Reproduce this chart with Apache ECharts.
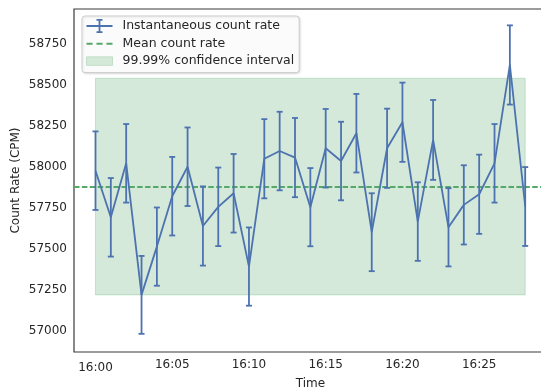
<!DOCTYPE html>
<html>
<head>
<meta charset="utf-8">
<script src="https://cdn.jsdelivr.net/npm/echarts@6/dist/echarts.min.js"></script>
<style>
  html, body { margin: 0; padding: 0; background: #ffffff; }
  #chart { width: 541px; height: 392px; }
</style>
</head>
<body>
<div id="chart"></div>
<script>
// One reading per minute, 16:00 to 16:28
const timeLabels = [
  '16:00', '16:01', '16:02', '16:03', '16:04', '16:05', '16:06', '16:07', '16:08', '16:09',
  '16:10', '16:11', '16:12', '16:13', '16:14', '16:15', '16:16', '16:17', '16:18', '16:19',
  '16:20', '16:21', '16:22', '16:23', '16:24', '16:25', '16:26', '16:27', '16:28'
];
// Instantaneous count rate (CPM)
const countRates = [
  57976, 57691, 58021, 57217, 57512, 57820, 58000, 57638, 57755, 57838,
  57390, 58049, 58096, 58056, 57753, 58113, 58035, 58205, 57600, 58113,
  58272, 57665, 58164, 57630, 57767, 57832, 58021, 58622, 57757
];
// One-sigma counting uncertainty of each reading (CPM)
const rateErrors = [
  240, 240, 240, 238, 239, 240, 240, 242, 240, 240,
  239, 242, 240, 242, 239, 240, 240, 240, 238, 242,
  242, 240, 244, 239, 242, 242, 240, 242, 241
];
const meanRate = 57878;
const ciLow = 57217;
const ciHigh = 58541;

const xTickLabels = ['16:00', '16:05', '16:10', '16:15', '16:20', '16:25'];
const yTickValues = [57000, 57250, 57500, 57750, 58000, 58250, 58500, 58750];

const BLUE = '#4c72b0';
const GREEN = '#55a868';
const TEXT = '#262626';
const FONT = 'DejaVu Sans';
const LW = 1.8;

function toMinutes(label) {
  const parts = label.split(':').map(Number);
  return (parts[0] - 16) * 60 + parts[1];
}
function toClock(minutes) {
  const h = 16 + Math.floor(minutes / 60);
  const m = Math.round(minutes % 60);
  return h + ':' + (m < 10 ? '0' + m : '' + m);
}

const xs = timeLabels.map(toMinutes);
const ratePoints = xs.map((x, i) => [x, countRates[i]]);
const errorData = xs.map((x, i) => [x, countRates[i] - rateErrors[i], countRates[i] + rateErrors[i]]);
const ciStart = xs[0];
const ciEnd = xs[xs.length - 1];

const CAP = 3;
function renderErrorBar(params, api) {
  const x = api.value(0);
  const top = api.coord([x, api.value(2)]);
  const bot = api.coord([x, api.value(1)]);
  const style = { stroke: BLUE, lineWidth: LW };
  return {
    type: 'group',
    children: [
      { type: 'line', shape: { x1: top[0], y1: top[1], x2: bot[0], y2: bot[1] }, style: style },
      { type: 'line', shape: { x1: top[0] - CAP, y1: top[1], x2: top[0] + CAP, y2: top[1] }, style: style },
      { type: 'line', shape: { x1: bot[0] - CAP, y1: bot[1], x2: bot[0] + CAP, y2: bot[1] }, style: style }
    ]
  };
}

const chart = echarts.init(document.getElementById('chart'), null, { renderer: 'canvas' });

chart.setOption({
  animation: false,
  backgroundColor: '#ffffff',
  grid: {
    left: 74,
    right: -5.7,
    top: 9,
    bottom: 40,
    outerBoundsMode: 'none',
    containLabel: false,
    show: true,
    borderColor: '#3a3a3a',
    borderWidth: 1.2,
    backgroundColor: 'transparent'
  },
  legend: {
    orient: 'vertical',
    left: 82,
    top: 16,
    itemWidth: 26,
    itemHeight: 14,
    itemGap: 4.3,
    padding: [3, 5, 5, 4],
    backgroundColor: 'rgba(255,255,255,0.85)',
    borderColor: '#cccccc',
    borderWidth: 1,
    borderRadius: 3,
    shadowColor: 'rgba(0,0,0,0.12)',
    shadowBlur: 2,
    shadowOffsetX: 1,
    shadowOffsetY: 1,
    selectedMode: false,
    textStyle: { fontFamily: FONT, fontSize: 12.5, color: TEXT, padding: [0, 0, 0, 5] },
    data: [
      {
        name: 'Instantaneous count rate',
        icon: 'path://M0,6.1H26V7.9H0Z M12.1,0H13.9V14H12.1Z M10,0H16V1.8H10Z M10,12.2H16V14H10Z',
        itemStyle: { color: BLUE, borderWidth: 0 }
      },
      {
        name: 'Mean count rate',
        icon: 'path://M0,0H5.5V1.8H0Z M9,0H14.5V1.8H9Z M18,0H23.5V1.8H18Z',
        itemStyle: { color: GREEN, borderWidth: 0 }
      },
      {
        name: '99.99% confidence interval',
        icon: 'path://M0,0H26V8.5H0Z',
        itemStyle: { color: '#d5e9d9', borderColor: '#c2dfc8', borderWidth: 1 }
      }
    ]
  },
  xAxis: {
    type: 'value',
    min: -1.4,
    max: 29.4,
    name: 'Time',
    nameLocation: 'middle',
    nameGap: 26,
    nameMoveOverlap: false,
    nameTextStyle: { fontFamily: FONT, fontSize: 12, color: TEXT },
    axisLine: { show: false },
    axisTick: { show: false },
    splitLine: { show: false },
    axisLabel: {
      customValues: xTickLabels.map(toMinutes),
      margin: 7,
      fontFamily: FONT,
      fontSize: 12,
      color: TEXT,
      formatter: function (v) {
        const s = toClock(v);
        return v === 0 ? '{first|' + s + '}' : s;
      },
      rich: {
        first: { fontFamily: FONT, fontSize: 12, color: TEXT, padding: [3, 0, 0, 0] }
      }
    }
  },
  yAxis: {
    type: 'value',
    min: 56868,
    max: 58964,
    name: 'Count Rate (CPM)',
    nameLocation: 'middle',
    nameGap: 52,
    nameMoveOverlap: false,
    nameTextStyle: { fontFamily: FONT, fontSize: 12, color: TEXT },
    axisLine: { show: false },
    axisTick: { show: false },
    splitLine: { show: false },
    axisLabel: {
      customValues: yTickValues,
      margin: 7,
      fontFamily: FONT,
      fontSize: 12,
      color: TEXT,
      formatter: function (v) { return String(v); }
    }
  },
  series: [
    {
      name: '99.99% confidence interval',
      type: 'line',
      data: [],
      z: 1,
      silent: true,
      markArea: {
        silent: true,
        itemStyle: {
          color: 'rgba(85,168,104,0.25)',
          borderColor: 'rgba(85,168,104,0.25)',
          borderWidth: 1
        },
        data: [[{ xAxis: ciStart, yAxis: ciLow }, { xAxis: ciEnd, yAxis: ciHigh }]]
      }
    },
    {
      name: 'Mean count rate',
      type: 'line',
      data: [],
      z: 3,
      silent: true,
      markLine: {
        silent: true,
        symbol: 'none',
        label: { show: false },
        lineStyle: { color: GREEN, type: [5.5, 2.4], width: LW },
        data: [{ yAxis: meanRate }]
      }
    },
    {
      name: 'Instantaneous count rate',
      type: 'line',
      data: ratePoints,
      symbol: 'none',
      showSymbol: false,
      z: 5,
      silent: true,
      lineStyle: { color: BLUE, width: LW },
      itemStyle: { color: BLUE }
    },
    {
      name: 'Instantaneous count rate',
      type: 'custom',
      data: errorData,
      encode: { x: 0, y: [1, 2] },
      renderItem: renderErrorBar,
      z: 5,
      silent: true
    }
  ]
});
</script>
</body>
</html>
